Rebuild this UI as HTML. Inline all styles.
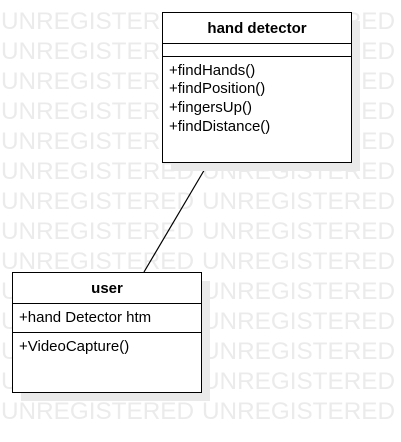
<!DOCTYPE html>
<html><head><meta charset="utf-8"><style>
html,body{margin:0;padding:0;background:#fff;}
svg{display:block;}
</style></head><body>
<svg width="401" height="442" xmlns="http://www.w3.org/2000/svg" font-family="Liberation Sans, Arial, sans-serif">
<g fill="#ebebeb" font-size="24">
<text x="1" y="29" textLength="193" lengthAdjust="spacingAndGlyphs">UNREGISTERED</text><text x="202" y="29" textLength="193" lengthAdjust="spacingAndGlyphs">UNREGISTERED</text>
<text x="1" y="59" textLength="193" lengthAdjust="spacingAndGlyphs">UNREGISTERED</text><text x="202" y="59" textLength="193" lengthAdjust="spacingAndGlyphs">UNREGISTERED</text>
<text x="1" y="89" textLength="193" lengthAdjust="spacingAndGlyphs">UNREGISTERED</text><text x="202" y="89" textLength="193" lengthAdjust="spacingAndGlyphs">UNREGISTERED</text>
<text x="1" y="119" textLength="193" lengthAdjust="spacingAndGlyphs">UNREGISTERED</text><text x="202" y="119" textLength="193" lengthAdjust="spacingAndGlyphs">UNREGISTERED</text>
<text x="1" y="149" textLength="193" lengthAdjust="spacingAndGlyphs">UNREGISTERED</text><text x="202" y="149" textLength="193" lengthAdjust="spacingAndGlyphs">UNREGISTERED</text>
<text x="1" y="179" textLength="193" lengthAdjust="spacingAndGlyphs">UNREGISTERED</text><text x="202" y="179" textLength="193" lengthAdjust="spacingAndGlyphs">UNREGISTERED</text>
<text x="1" y="209" textLength="193" lengthAdjust="spacingAndGlyphs">UNREGISTERED</text><text x="202" y="209" textLength="193" lengthAdjust="spacingAndGlyphs">UNREGISTERED</text>
<text x="1" y="239" textLength="193" lengthAdjust="spacingAndGlyphs">UNREGISTERED</text><text x="202" y="239" textLength="193" lengthAdjust="spacingAndGlyphs">UNREGISTERED</text>
<text x="1" y="269" textLength="193" lengthAdjust="spacingAndGlyphs">UNREGISTERED</text><text x="202" y="269" textLength="193" lengthAdjust="spacingAndGlyphs">UNREGISTERED</text>
<text x="1" y="299" textLength="193" lengthAdjust="spacingAndGlyphs">UNREGISTERED</text><text x="202" y="299" textLength="193" lengthAdjust="spacingAndGlyphs">UNREGISTERED</text>
<text x="1" y="329" textLength="193" lengthAdjust="spacingAndGlyphs">UNREGISTERED</text><text x="202" y="329" textLength="193" lengthAdjust="spacingAndGlyphs">UNREGISTERED</text>
<text x="1" y="359" textLength="193" lengthAdjust="spacingAndGlyphs">UNREGISTERED</text><text x="202" y="359" textLength="193" lengthAdjust="spacingAndGlyphs">UNREGISTERED</text>
<text x="1" y="389" textLength="193" lengthAdjust="spacingAndGlyphs">UNREGISTERED</text><text x="202" y="389" textLength="193" lengthAdjust="spacingAndGlyphs">UNREGISTERED</text>
<text x="1" y="419" textLength="193" lengthAdjust="spacingAndGlyphs">UNREGISTERED</text><text x="202" y="419" textLength="193" lengthAdjust="spacingAndGlyphs">UNREGISTERED</text>
</g>
<line x1="209" y1="162" x2="144" y2="272" stroke="#000" stroke-width="1.2"/>
<rect x="171" y="21" width="189" height="150" fill="#eaeaea"/>
<rect x="21" y="281" width="189" height="120" fill="#eaeaea"/>
<rect x="162.5" y="12.5" width="189" height="150" fill="#fff" stroke="#000"/>
<line x1="162.5" y1="43.5" x2="351.5" y2="43.5" stroke="#000"/>
<line x1="162.5" y1="56.5" x2="351.5" y2="56.5" stroke="#000"/>
<text x="257" y="33" text-anchor="middle" font-size="15" font-weight="bold">hand detector</text>
<g font-size="15">
<text x="169" y="75">+findHands()</text>
<text x="169" y="93">+findPosition()</text>
<text x="169" y="112">+fingersUp()</text>
<text x="169" y="131">+findDistance()</text>
</g>
<rect x="12.5" y="272.5" width="189" height="120" fill="#fff" stroke="#000"/>
<line x1="12.5" y1="303.5" x2="201.5" y2="303.5" stroke="#000"/>
<line x1="12.5" y1="332.5" x2="201.5" y2="332.5" stroke="#000"/>
<text x="107" y="293" text-anchor="middle" font-size="15" font-weight="bold">user</text>
<text x="19" y="322" font-size="15">+hand Detector htm</text>
<text x="19" y="351" font-size="15">+VideoCapture()</text>
</svg>
</body></html>
